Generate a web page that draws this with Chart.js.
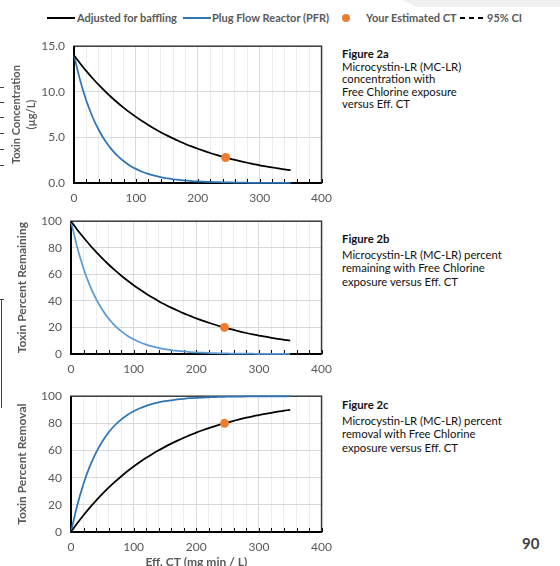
<!DOCTYPE html>
<html>
<head>
<meta charset="utf-8">
<script src="https://cdn.jsdelivr.net/npm/chart.js@4.4.1/dist/chart.umd.min.js"></script>
<style>
  html, body { margin: 0; padding: 0; background: #fff; }
  body { width: 560px; height: 566px; overflow: hidden; position: relative; font-family: Lato, 'Open Sans', sans-serif; }
  canvas { position: absolute; left: 0; }
  .key { position: absolute; top: 11px; font-size: 11px; line-height: 13px; font-weight: bold; color: #595959; white-space: nowrap; }
  .swatch { position: absolute; top: 17px; height: 2px; width: 28px; }
  .caption { position: absolute; left: 342px; font-size: 11.3px; line-height: 13.5px; color: #111; }
  .caption b { font-weight: bold; display: block; }
  .caption.gap b { margin-bottom: 2px; }
  .caption.tight { line-height: 12.5px; }
  .mark { position: absolute; background: #444; }
  #pageNo { position: absolute; left: 522px; top: 534px; font-size: 15px; font-weight: bold; color: #3f3f3f; }
</style>
</head>
<body>

<div style="position:absolute;left:403px;top:0;width:157px;height:7px;background:#f0f0f0;clip-path:polygon(0 0,100% 0,100% 100%,14px 100%);"></div>

<!-- legend shared by the three panels -->
<div class="swatch" style="left:47px;background:#000;"></div>
<div class="key" style="left:77px;">Adjusted for baffling</div>
<div class="swatch" style="left:183px;background:#2e75b6;"></div>
<div class="key" style="left:212px;">Plug Flow Reactor (PFR)</div>
<div style="position:absolute;left:342px;top:14px;width:8px;height:8px;border-radius:50%;background:#ed7d31;"></div>
<div class="swatch" style="left:460px;width:25px;background:repeating-linear-gradient(90deg,#000 0 5px,transparent 5px 9px);"></div>
<div class="key" style="left:366px;">Your Estimated CT</div>
<div class="key" style="left:487px;">95% CI</div>

<canvas id="chartA" width="340" height="181" style="top:30px;"></canvas>
<canvas id="chartB" width="340" height="175" style="top:205px;"></canvas>
<canvas id="chartC" width="340" height="200" style="top:380px;"></canvas>

<div class="caption tight" style="top:48px;"><b>Figure 2a</b>Microcystin-LR (MC-LR)<br>concentration with<br>Free Chlorine exposure<br>versus Eff. CT</div>
<div class="caption gap" style="top:232px;"><b>Figure 2b</b>Microcystin-LR (MC-LR) percent<br>remaining with Free Chlorine<br>exposure versus Eff. CT</div>
<div class="caption gap" style="top:398px;"><b>Figure 2c</b>Microcystin-LR (MC-LR) percent<br>removal with Free Chlorine<br>exposure versus Eff. CT</div>

<div id="pageNo">90</div>

<!-- bits of the neighbouring page at the left edge -->
<div class="mark" style="left:0;top:87px;width:4px;height:1px;"></div>
<div class="mark" style="left:0;top:102px;width:4px;height:1px;"></div>
<div class="mark" style="left:0;top:117px;width:4px;height:1px;"></div>
<div class="mark" style="left:0;top:133px;width:4px;height:1px;"></div>
<div class="mark" style="left:0;top:149px;width:4px;height:1px;"></div>
<div class="mark" style="left:0;top:165px;width:4px;height:1px;"></div>
<div class="mark" style="left:1px;top:299px;width:1px;height:109px;"></div>
<div class="mark" style="left:0;top:299px;width:4px;height:1px;"></div>

<script>
// Eff. CT (mg min / L)
const ctValues = [0, 10, 20, 30, 40, 50, 60, 70, 80, 90, 100, 110, 120, 130, 140, 150, 160, 170,
  180, 190, 200, 210, 220, 230, 240, 250, 260, 270, 280, 290, 300, 310, 320, 330, 340, 350];

// toxin concentration (ug/L)
const adjustedConc = [14.0, 13.11, 12.27, 11.49, 10.76, 10.08, 9.43, 8.83, 8.27, 7.74, 7.25, 6.79,
  6.36, 5.95, 5.57, 5.22, 4.89, 4.58, 4.28, 4.01, 3.76, 3.52, 3.29, 3.08, 2.89, 2.70, 2.53, 2.37,
  2.22, 2.08, 1.94, 1.82, 1.71, 1.60, 1.50, 1.40];
const pfrConc = [14.0, 11.24, 9.02, 7.24, 5.81, 4.66, 3.74, 3.00, 2.41, 1.93, 1.55, 1.24, 1.00,
  0.80, 0.64, 0.52, 0.41, 0.33, 0.27, 0.21, 0.17, 0.14, 0.11, 0.09, 0.07, 0.06, 0.05, 0.04, 0.03,
  0.02, 0.02, 0.02, 0.01, 0.01, 0.01, 0.01];

// toxin percent remaining
const adjustedRemaining = [100, 93.6, 87.7, 82.1, 76.9, 72.0, 67.4, 63.1, 59.1, 55.3, 51.8, 48.5,
  45.4, 42.5, 39.8, 37.3, 34.9, 32.7, 30.6, 28.7, 26.8, 25.1, 23.5, 22.0, 20.6, 19.3, 18.1, 16.9,
  15.8, 14.8, 13.9, 13.0, 12.2, 11.4, 10.7, 10.0];
const pfrRemaining = [100, 80.3, 64.4, 51.7, 41.5, 33.3, 26.7, 21.4, 17.2, 13.8, 11.1, 8.9, 7.1,
  5.7, 4.6, 3.7, 3.0, 2.4, 1.9, 1.5, 1.2, 1.0, 0.8, 0.6, 0.5, 0.4, 0.3, 0.3, 0.2, 0.2, 0.1, 0.1,
  0.1, 0.1, 0.1, 0.0];

// toxin percent removal
const adjustedRemoval = [0, 6.4, 12.3, 17.9, 23.1, 28.0, 32.6, 36.9, 40.9, 44.7, 48.2, 51.5, 54.6,
  57.5, 60.2, 62.7, 65.1, 67.3, 69.4, 71.3, 73.2, 74.9, 76.5, 78.0, 79.4, 80.7, 81.9, 83.1, 84.2,
  85.2, 86.1, 87.0, 87.8, 88.6, 89.3, 90.0];
const pfrRemoval = [0, 19.7, 35.6, 48.3, 58.5, 66.7, 73.3, 78.6, 82.8, 86.2, 88.9, 91.1, 92.9,
  94.3, 95.4, 96.3, 97.0, 97.6, 98.1, 98.5, 98.8, 99.0, 99.2, 99.4, 99.5, 99.6, 99.7, 99.7, 99.8,
  99.8, 99.9, 99.9, 99.9, 99.9, 99.9, 100.0];

// the user's estimated CT point
const estimatedCT = 245;
const estimatedConc = 2.8;
const estimatedRemaining = 20;
const estimatedRemoval = 80;

const fontFamily = 'Lato, "Open Sans", sans-serif';
const tickFont = { family: fontFamily, size: 12 };
const tickColor = '#595959';

function toPoints(ys) {
  return ctValues.map((x, i) => ({ x, y: ys[i] }));
}

// outline of the plot area plus the small inward tick marks on the CT axis
const framePlugin = {
  id: 'frame',
  beforeDatasetsDraw(chart) {
    const { ctx, chartArea: a, scales: { x } } = chart;
    ctx.save();
    ctx.strokeStyle = '#3a3a3a';
    ctx.lineWidth = 1.5;
    ctx.strokeRect(a.left, a.top, a.right - a.left, a.bottom - a.top);
    ctx.strokeStyle = '#000';
    ctx.lineWidth = 2;
    ctx.beginPath();
    ctx.moveTo(a.left, a.top);
    ctx.lineTo(a.left, a.bottom);
    ctx.lineTo(a.right, a.bottom);
    ctx.stroke();
    ctx.lineWidth = 1;
    x.ticks.forEach(t => {
      const px = Math.round(x.getPixelForValue(t.value)) + 0.5;
      ctx.beginPath();
      ctx.moveTo(px, a.bottom);
      ctx.lineTo(px, a.bottom - 4);
      ctx.stroke();
    });
    ctx.restore();
  }
};

function makePanel(id, p) {
  return new Chart(document.getElementById(id), {
    type: 'line',
    data: {
      datasets: [
        { data: [{ x: estimatedCT, y: p.estimate }], showLine: false, pointRadius: 4.5,
          pointBackgroundColor: '#ed7d31', pointBorderWidth: 0, order: 0 },
        { data: toPoints(p.adjusted), borderColor: '#000', borderWidth: 1.75, pointRadius: 0,
          cubicInterpolationMode: 'monotone', clip: 4, order: 1 },
        { data: toPoints(p.pfr), borderColor: p.pfrColor, borderWidth: 1.75, pointRadius: 0,
          cubicInterpolationMode: 'monotone', clip: 4, order: 2 }
      ]
    },
    options: {
      responsive: false,
      animation: false,
      events: [],
      layout: { padding: { top: p.top, right: 17, left: 0, bottom: 0 } },
      plugins: { legend: { display: false }, tooltip: { enabled: false } },
      scales: {
        x: {
          type: 'linear', min: 0, max: 400,
          afterFit: s => { s.height = p.xHeight; },
          border: { display: false },
          grid: {
            drawTicks: false,
            color: c => (c.tick && c.tick.value % 100 === 0) ? '#d9d9d9' : '#ededed'
          },
          ticks: {
            stepSize: 20, autoSkip: false, maxRotation: 0, padding: 8,
            font: tickFont, color: tickColor,
            callback: v => (v % 100 === 0 ? String(v) : '')
          },
          title: p.xTitle ? {
            display: true, text: p.xTitle, color: tickColor,
            font: { family: fontFamily, size: 12, weight: 'bold' },
            padding: { top: 0, bottom: 11 }
          } : { display: false }
        },
        y: {
          min: 0, max: p.yMax,
          afterFit: s => { s.width = p.left; },
          border: { display: false },
          grid: { drawTicks: false, color: '#d9d9d9' },
          ticks: {
            stepSize: p.yStep, padding: 9, font: tickFont, color: tickColor,
            callback: v => v.toFixed(p.yDecimals)
          },
          title: {
            display: true, text: p.yTitle, color: tickColor,
            font: { family: fontFamily, size: p.titleSize, weight: 'bold', lineHeight: p.titleLine },
            padding: { top: p.titlePad, bottom: 0 }
          }
        }
      }
    },
    plugins: [framePlugin]
  });
}

makePanel('chartA', {
  adjusted: adjustedConc, pfr: pfrConc, estimate: estimatedConc, pfrColor: '#2e75b6',
  yMax: 15, yStep: 5, yDecimals: 1, yTitle: ['Toxin Concentration', '(\u00b5g/L)'],
  titleSize: 11, titleLine: 1.45, titlePad: 8, left: 74, top: 15, xHeight: 28
});

makePanel('chartB', {
  adjusted: adjustedRemaining, pfr: pfrRemaining, estimate: estimatedRemaining, pfrColor: '#5b9bd5',
  yMax: 100, yStep: 20, yDecimals: 0, yTitle: 'Toxin Percent Remaining',
  titleSize: 12, titleLine: 1.2, titlePad: 15, left: 71, top: 11, xHeight: 26
});

makePanel('chartC', {
  adjusted: adjustedRemoval, pfr: pfrRemoval, estimate: estimatedRemoval, pfrColor: '#2e75b6',
  yMax: 100, yStep: 20, yDecimals: 0, yTitle: 'Toxin Percent Removal',
  titleSize: 12, titleLine: 1.2, titlePad: 15, left: 71, top: 11, xHeight: 48, xTitle: 'Eff. CT (mg min / L)'
});
</script>
</body>
</html>
